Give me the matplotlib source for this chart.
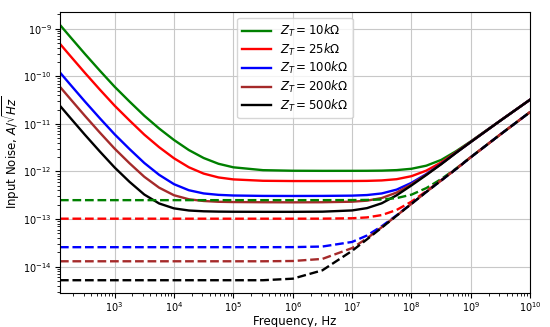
import matplotlib
matplotlib.use("Agg")
import matplotlib.pyplot as plt
import numpy as np

freq = [120, 178, 316, 562, 1e3, 1.78e3, 3.16e3, 5.62e3, 1e4, 1.78e4, 3.16e4,
        5.62e4, 1e5, 3.16e5, 1e6, 3.16e6, 1e7, 1.78e7, 3.16e7, 5.62e7, 1e8,
        1.78e8, 3.16e8, 5.62e8, 1e9, 3.16e9, 1e10]

labels = [r'$Z_T = 10k\Omega$', r'$Z_T = 25k\Omega$', r'$Z_T = 100k\Omega$',
          r'$Z_T = 200k\Omega$', r'$Z_T = 500k\Omega$']
colors = ['green', 'red', 'blue', 'brown', 'black']

# total input noise, pA/sqrt(Hz)
total_10k = [1202, 676, 295, 131.8, 60.3, 29.5, 14.84, 8.00, 4.59, 2.82, 1.92,
             1.452, 1.224, 1.066, 1.037, 1.032, 1.033, 1.035, 1.043, 1.069, 1.141,
             1.325, 1.749, 2.663, 4.296, 11.79, 32.42]
total_25k = [480.8, 270.4, 118, 52.7, 24.13, 11.82, 5.95, 3.24, 1.895, 1.226, 0.903,
             0.750, 0.682, 0.638, 0.630, 0.629, 0.631, 0.635, 0.649, 0.689, 0.797,
             1.043, 1.547, 2.535, 4.217, 11.77, 32.41]
total_100k = [120.2, 67.6, 29.5, 13.18, 6.04, 2.966, 1.511, 0.851, 0.542, 0.404, 0.346,
              0.323, 0.313, 0.307, 0.306, 0.307, 0.311, 0.320, 0.346, 0.416, 0.578,
              0.886, 1.446, 2.475, 4.181, 11.76, 32.40]
total_200k = [60.1, 33.8, 14.75, 6.59, 3.023, 1.492, 0.774, 0.457, 0.317, 0.261, 0.240,
              0.231, 0.228, 0.226, 0.225, 0.226, 0.232, 0.244, 0.277, 0.361, 0.539,
              0.862, 1.431, 2.466, 4.176, 11.75, 32.40]
total_500k = [24.04, 13.52, 5.9, 2.64, 1.214, 0.607, 0.328, 0.213, 0.168, 0.1516, 0.1458,
              0.1436, 0.1427, 0.1421, 0.1421, 0.1432, 0.152, 0.170, 0.215, 0.316, 0.510,
              0.844, 1.420, 2.460, 4.173, 11.75, 32.40]

# dashed curves, pA/sqrt(Hz)
dash_10k = [0.25]*15 + [0.2501, 0.2509, 0.2527, 0.2586, 0.2762, 0.326, 0.448, 0.692,
                        1.150, 2.011, 6.035, 17.80]
dash_25k = [0.102]*15 + [0.1022, 0.1041, 0.1085, 0.1215, 0.1556, 0.2326, 0.3857, 0.6538,
                         1.1267, 1.9976, 6.031, 17.80]
dash_100k = [0.0257]*14 + [0.02578, 0.02653, 0.03312, 0.0452, 0.0709, 0.1203, 0.2106,
                           0.3729, 0.6463, 1.1223, 1.995, 6.03, 17.8]
dash_200k = [0.013]*14 + [0.01317, 0.01458, 0.02462, 0.0394, 0.0674, 0.1182, 0.2095,
                          0.3722, 0.6461, 1.1221, 1.995, 6.03, 17.8]
dash_500k = [0.0052]*14 + [0.0056, 0.0084, 0.02154, 0.03756, 0.0663, 0.1176, 0.2091,
                           0.3721, 0.646, 1.122, 1.995, 6.03, 17.8]

totals = [total_10k, total_25k, total_100k, total_200k, total_500k]
dashes = [dash_10k, dash_25k, dash_100k, dash_200k, dash_500k]

fig = plt.figure(figsize=(5.5, 3.27), dpi=100)
ax = fig.add_axes([0.109, 0.104, 0.855, 0.859])

for tot, lab, c in zip(totals, labels, colors):
    ax.loglog(freq, np.array(tot)*1e-12, color=c, lw=1.7, label=lab)
for d, c in zip(dashes, colors):
    ax.loglog(freq, np.array(d)*1e-12, color=c, lw=1.7, ls='--')

ax.set_xlim(120, 1e10)
ax.grid(True, which='major', color='#c8c8c8', lw=0.8)
ax.tick_params(labelsize=7, pad=2.5)
ax.tick_params(axis='x', pad=1.5)
ax.set_xlabel('Frequency, Hz', fontsize=8.5)
ax.set_ylabel(r'Input Noise, $A/\sqrt{Hz}$', fontsize=8.5)
ax.xaxis.set_label_coords(0.5, -0.077)
ax.yaxis.set_label_coords(-0.08, 0.5)
ax.legend(loc='upper center', fontsize=8.5, handlelength=2.4, labelspacing=0.22)

fig.savefig('out.png', dpi=100)
